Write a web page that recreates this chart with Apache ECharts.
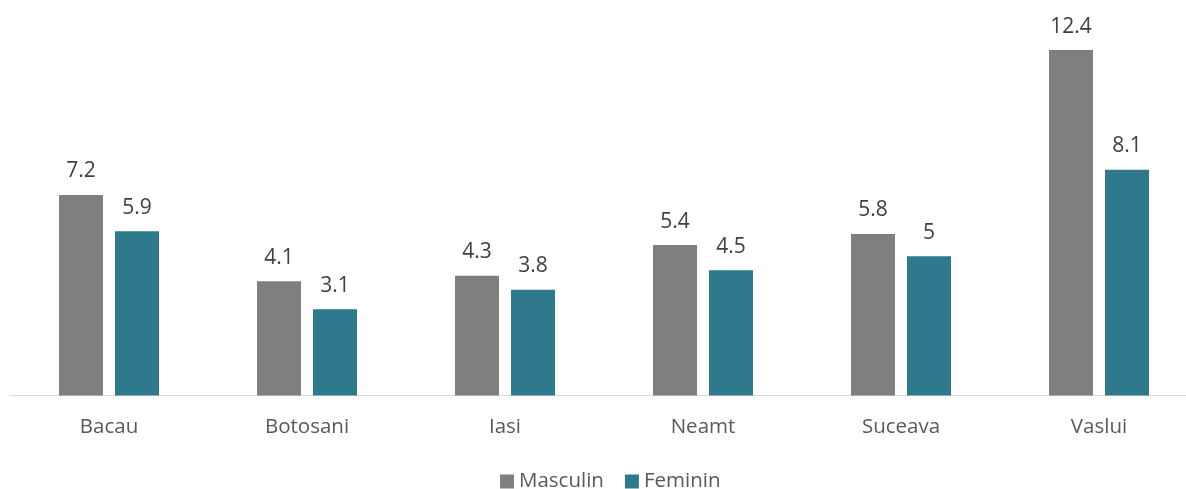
<!DOCTYPE html>
<html><head><meta charset="utf-8">
<script src="https://cdn.jsdelivr.net/npm/echarts@6/dist/echarts.min.js"></script>
<style>html,body{margin:0;padding:0;background:#fff;overflow:hidden}#c{width:1198px;height:489px}</style>
</head><body><div id="c"></div>
<script>
const categories = ['Bacau','Botosani','Iasi','Neamt','Suceava','Vaslui'];
const masculin = [7.2, 4.1, 4.3, 5.4, 5.8, 12.4];
const feminin = [5.9, 3.1, 3.8, 4.5, 5, 8.1];
const seriesNames = ['Masculin','Feminin'];

const FONT = '"Open Sans", sans-serif';
const chart = echarts.init(document.getElementById('c'));
const label = {show:true, position:'top', distance:13, color:'#404040', fontSize:21, fontFamily:FONT};
chart.setOption({
  animation:false,
  grid:{left:10, top:5.5, right:0, height:390, containLabel:false},
  legend:{top:466, left:495, itemWidth:14, itemHeight:14, itemGap:21,
    textStyle:{color:'#595959', fontSize:20.5, fontFamily:FONT}, icon:'rect', data:seriesNames},
  xAxis:{type:'category', data:categories,
    axisLine:{lineStyle:{color:'#D9D9D9', width:1}}, axisTick:{show:false},
    axisLabel:{color:'#595959', fontSize:20.5, fontFamily:FONT, margin:21}},
  yAxis:{type:'value', min:0, max:14, show:false, splitLine:{show:false}},
  series:[
    {name:seriesNames[0], type:'bar', data:masculin, barWidth:44, barGap:'27.3%',
     itemStyle:{color:'#7F7F7F'}, label},
    {name:seriesNames[1], type:'bar', data:feminin, barWidth:44,
     itemStyle:{color:'#2E798B'}, label}
  ]
});
</script></body></html>
